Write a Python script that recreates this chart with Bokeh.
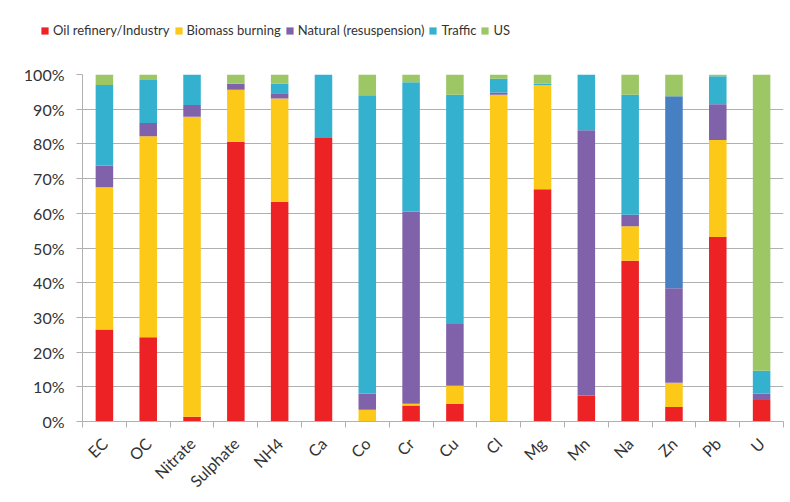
from bokeh.plotting import figure
from bokeh.layouts import column
from bokeh.models import Range1d, FixedTicker, PrintfTickFormatter, Legend, LegendItem, ColumnDataSource
from bokeh.embed import file_html
from bokeh.resources import INLINE
import math

categories = ["EC", "OC", "Nitrate", "Sulphate", "NH4", "Ca", "Co", "Cr", "Cu", "Cl",
              "Mg", "Mn", "Na", "Zn", "Pb", "U"]
oil_industry = [26.5, 24.3, 1.4, 80.6, 63.3, 81.7, 0.0, 4.6, 5.1, 0.0, 66.9, 7.5, 46.3, 4.2, 53.2, 6.2]
biomass      = [41.0, 57.9, 86.4, 15.0, 29.8, 0.0, 3.4, 0.5, 5.2, 94.2, 30.0, 0.0, 10.0, 7.0, 27.9, 0.0]
natural      = [6.3, 3.8, 3.4, 1.7, 1.5, 0.0, 4.7, 55.4, 17.8, 0.6, 0.0, 76.4, 3.3, 27.2, 10.3, 1.9]
traffic      = [23.2, 12.4, 8.8, 0.0, 2.7, 18.3, 85.9, 37.3, 66.1, 4.0, 0.5, 16.1, 34.6, 0.0, 8.1, 6.5]
unlabeled    = [0.0, 0.0, 0.0, 0.0, 0.0, 0.0, 0.0, 0.0, 0.0, 0.0, 0.0, 0.0, 0.0, 55.3, 0.0, 0.0]
us           = [3.0, 1.6, 0.0, 2.7, 2.7, 0.0, 6.0, 2.2, 5.8, 1.2, 2.6, 0.0, 5.8, 6.3, 0.5, 85.4]
y_ticks = [0, 10, 20, 30, 40, 50, 60, 70, 80, 90, 100]

series_keys = ["oil", "bio", "nat", "traf", "unl", "us"]
series_names = ["Oil refinery/Industry", "Biomass burning", "Natural (resuspension)", "Traffic", None, "US"]
colors = ["#ED2224", "#FDC918", "#8062AA", "#33B1CF", "#4680C2", "#9DC664"]

xs = [i + 0.5 for i in range(len(categories))]
src = ColumnDataSource(dict(x=xs, oil=oil_industry, bio=biomass, nat=natural,
                            traf=traffic, unl=unlabeled, us=us))

FONT = "Lato"
GRID = "#B0B0B0"
TXT = "#333333"
W = 788

# ---- legend strip (same series, drawn out of view; only the legend shows) ----
leg = figure(width=W, height=50, output_backend="svg", toolbar_location=None,
             x_range=Range1d(0, len(categories)), y_range=Range1d(1000, 1001),
             x_axis_type=None, y_axis_type=None,
             min_border_left=0, min_border_right=0, min_border_top=0, min_border_bottom=0)
leg.frame_align = False
leg.outline_line_color = None
leg.grid.grid_line_color = None
leg_renderers = leg.vbar_stack(series_keys, x="x", width=0.4, color=colors, line_color=None, source=src)
leg_items = [LegendItem(label=n, renderers=[r]) for n, r in zip(series_names, leg_renderers) if n]
legend = Legend(items=leg_items, orientation="horizontal", location=(40, 12),
                glyph_width=9, glyph_height=9, label_standoff=4, spacing=4,
                padding=0, margin=0, border_line_color=None, background_fill_alpha=0,
                label_text_font=FONT, label_text_font_size="13px", label_text_color=TXT)
leg.add_layout(legend, "center")

# ---- main chart ----
p = figure(width=W, height=450, output_backend="svg", toolbar_location=None,
           x_range=Range1d(0, len(categories)), y_range=Range1d(0, 100),
           min_border_left=82, min_border_right=5, min_border_top=24, min_border_bottom=78)
p.frame_align = False
p.outline_line_color = None
p.background_fill_color = "white"
p.border_fill_color = "white"

p.vbar_stack(series_keys, x="x", width=0.4, color=colors, line_color=None, source=src)

# y axis
p.yaxis.ticker = FixedTicker(ticks=y_ticks)
p.yaxis.formatter = PrintfTickFormatter(format="%d%%")
p.yaxis.axis_line_color = GRID
p.yaxis.major_tick_line_color = GRID
p.yaxis.major_tick_out = 6
p.yaxis.major_tick_in = 0
p.yaxis.minor_tick_line_color = None
p.yaxis.major_label_text_font = FONT
p.yaxis.major_label_text_font_size = "16px"
p.yaxis.major_label_text_color = TXT
p.yaxis.major_label_standoff = 12
p.ygrid.grid_line_color = GRID
p.ygrid.ticker = FixedTicker(ticks=y_ticks)

# x axis: labels at centers, tick marks at boundaries
p.xaxis.ticker = FixedTicker(ticks=xs, minor_ticks=list(range(len(categories) + 1)))
p.xaxis.major_label_overrides = {x: c for x, c in zip(xs, categories)}
p.xaxis.major_tick_line_color = None
p.xaxis.minor_tick_line_color = GRID
p.xaxis.minor_tick_out = 6
p.xaxis.minor_tick_in = 0
p.xaxis.axis_line_color = GRID
p.xaxis.major_label_orientation = math.pi / 4
p.xaxis.major_label_text_font = FONT
p.xaxis.major_label_text_font_size = "16px"
p.xaxis.major_label_text_color = TXT
p.xaxis.major_label_standoff = 13
p.xgrid.grid_line_color = None

layout = column(leg, p, spacing=0)
open("out.html", "w").write(file_html(layout, INLINE))
